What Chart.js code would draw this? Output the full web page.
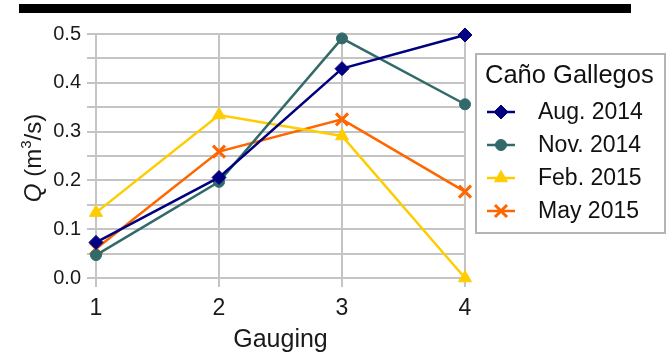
<!DOCTYPE html>
<html><head><meta charset="utf-8">
<script src="https://cdn.jsdelivr.net/npm/chart.js@4/dist/chart.umd.min.js"></script>
<style>html,body{margin:0;padding:0;background:#fff}canvas{display:block}</style>
</head><body>
<canvas id="c" width="672" height="355"></canvas>
<script>
// ---- data ----
const categories = ['1', '2', '3', '4'];
const seriesNames = ['Aug. 2014', 'Nov. 2014', 'Feb. 2015', 'May 2015'];
const aug2014 = [0.073, 0.206, 0.429, 0.498];
const nov2014 = [0.047, 0.197, 0.491, 0.356];
const feb2015 = [0.134, 0.334, 0.291, 0.000];
const may2015 = [0.060, 0.259, 0.325, 0.177];
const legendTitle = 'Caño Gallegos';
const xAxisTitle = 'Gauging';
const yAxisTitleParts = ['Q', ' (m', '3', '/s)'];

const FONT = "'Liberation Sans', Arial, sans-serif";
const colors = ['#000080', '#326A6A', '#FFCC00', '#FF6600'];
const styles = ['rectRot', 'circle', 'triangle', 'crossRot'];
const radii = [7, 5.5, 7.5, 8.5];
const bws = [1, 1, 1, 3];
const values = [aug2014, nov2014, feb2015, may2015];

const datasets = values.map((v, i) => ({
  label: seriesNames[i],
  data: v,
  borderColor: colors[i],
  backgroundColor: colors[i],
  borderWidth: 2.5,
  pointStyle: styles[i],
  pointRadius: radii[i],
  pointBorderWidth: bws[i],
  pointHoverRadius: radii[i],
  tension: 0,
  clip: false
}));

const blackBar = {
  id: 'blackBar',
  beforeDraw(chart) {
    const ctx = chart.ctx;
    ctx.save();
    ctx.fillStyle = '#fff';
    ctx.fillRect(0, 0, chart.width, chart.height);
    ctx.fillStyle = '#000';
    ctx.fillRect(19, 4, 612, 9);
    ctx.restore();
  }
};

const yTitle = {
  id: 'yTitle',
  afterDraw(chart) {
    const ctx = chart.ctx;
    const ca = chart.chartArea;
    ctx.save();
    ctx.translate(34, (ca.top + ca.bottom) / 2 + 2);
    ctx.rotate(-Math.PI / 2);
    ctx.fillStyle = '#1a1a1a';
    ctx.textBaseline = 'middle';
    const big = '24px ' + FONT, ital = 'italic 24px ' + FONT, sup = '15px ' + FONT;
    const fonts = [ital, big, sup, big];
    let total = 0;
    const widths = yAxisTitleParts.map((t, i) => { ctx.font = fonts[i]; const w = ctx.measureText(t).width; total += w; return w; });
    let x = -total / 2;
    yAxisTitleParts.forEach((t, i) => {
      ctx.font = fonts[i];
      ctx.textAlign = 'left';
      ctx.fillText(t, x, i === 2 ? -7 : 0);
      x += widths[i];
    });
    ctx.restore();
  }
};

function drawMarker(ctx, style, r, bw, color, x, y) {
  ctx.save();
  ctx.fillStyle = color; ctx.strokeStyle = color; ctx.lineWidth = bw;
  if (Chart.helpers && Chart.helpers.drawPoint) {
    Chart.helpers.drawPoint(ctx, { pointStyle: style, radius: r, rotation: 0, borderWidth: bw }, x, y);
  }
  ctx.restore();
}

const legendBox = {
  id: 'legendBox',
  afterDraw(chart) {
    const ctx = chart.ctx;
    ctx.save();
    ctx.strokeStyle = '#b4b4b4';
    ctx.lineWidth = 2;
    ctx.strokeRect(476, 54, 189, 179);
    ctx.fillStyle = '#111';
    ctx.textBaseline = 'middle';
    ctx.textAlign = 'left';
    ctx.font = '25.5px ' + FONT;
    ctx.fillText(legendTitle, 485, 76);
    chart.data.datasets.forEach((ds, i) => {
      const y = 112 + i * 33;
      ctx.strokeStyle = ds.borderColor;
      ctx.lineWidth = 2.5;
      ctx.beginPath(); ctx.moveTo(487, y); ctx.lineTo(515, y); ctx.stroke();
      drawMarker(ctx, ds.pointStyle, ds.pointRadius, ds.pointBorderWidth, ds.borderColor, 501, y);
      ctx.fillStyle = '#111';
      ctx.font = '23px ' + FONT;
      ctx.fillText(ds.label, 538, y + 1);
    });
    ctx.restore();
  }
};

const gridColor = '#c4c4c4';
new Chart(document.getElementById('c'), {
  type: 'line',
  data: { labels: categories, datasets },
  plugins: [blackBar, yTitle, legendBox],
  options: {
    responsive: false,
    animation: false,
    devicePixelRatio: 1,
    layout: { padding: { left: 0, right: 207, top: 34, bottom: 0 } },
    plugins: { legend: { display: false }, tooltip: { enabled: false } },
    scales: {
      x: {
        type: 'category',
        offset: false,
        grid: { color: gridColor, lineWidth: 2, tickLength: 9, drawTicks: true },
        border: { color: gridColor, width: 2 },
        ticks: { color: '#1a1a1a', font: { family: FONT, size: 23 }, padding: 8, maxRotation: 0 },
        title: { display: true, text: xAxisTitle, color: '#1a1a1a', font: { family: FONT, size: 25 }, padding: { top: 0, bottom: 0 } },
        afterFit(s) { s.height = 77; }
      },
      y: {
        min: 0, max: 0.5,
        grid: { color: gridColor, lineWidth: 2, tickLength: 9, drawTicks: true },
        border: { color: gridColor, width: 2 },
        ticks: {
          stepSize: 0.05, autoSkip: false, color: '#1a1a1a', padding: 6,
          font: { family: FONT, size: 20 },
          callback(v) { const t = v * 10; return Math.abs(t - Math.round(t)) < 1e-6 ? Number(v).toFixed(1) : ''; }
        },
        afterFit(s) { s.width = 96; }
      }
    }
  }
});
</script>
</body></html>
